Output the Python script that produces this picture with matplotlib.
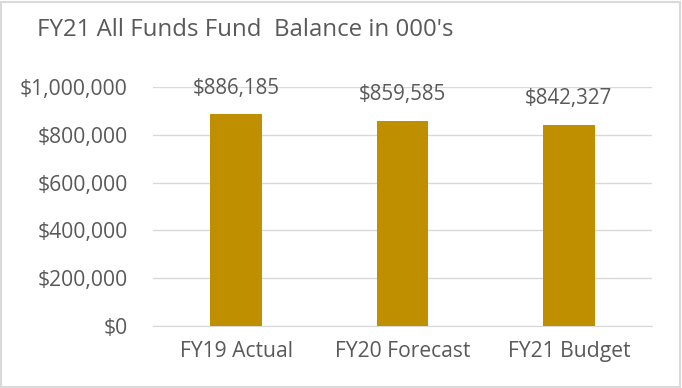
import matplotlib.pyplot as plt
from matplotlib.patches import Rectangle
from matplotlib.ticker import FuncFormatter

categories = ["FY19 Actual", "FY20 Forecast", "FY21 Budget"]
balances = [886185, 859585, 842327]
yticks = [0, 200000, 400000, 600000, 800000, 1000000]

plt.rcParams['font.family'] = ['Open Sans', 'DejaVu Sans']
txt = '#595959'

fig = plt.figure(figsize=(6.82, 3.88), dpi=100)
ax = fig.add_axes([0.2243, 0.1598, 0.7317, 0.616])

x = range(len(categories))
ax.bar(x, balances, width=0.31, color='#BF8F00', zorder=3)
for i, v in enumerate(balances):
    ax.annotate('${:,.0f}'.format(v), (i, v), xytext=(0, 18.5), textcoords='offset points',
                ha='center', va='center', fontsize=14.8, color=txt, clip_on=False)

ax.set_xlim(-0.5, 2.5)
ax.set_ylim(0, 1000000)
ax.set_yticks(yticks)
ax.yaxis.set_major_formatter(FuncFormatter(lambda v, p: '${:,.0f}'.format(v)))
ax.set_xticks(list(x))
ax.set_xticklabels(categories, fontsize=15.5)
ax.tick_params(length=0, labelsize=15.2, colors=txt)
ax.tick_params(axis='x', pad=11)
ax.tick_params(axis='y', pad=18)
ax.grid(axis='y', color='#D9D9D9', linewidth=1, zorder=0)
for s in ['top', 'right', 'left']:
    ax.spines[s].set_visible(False)
ax.spines['bottom'].set_color('#D9D9D9')

fig.text(37 / 682, 1 - 30 / 388, "FY21 All Funds Fund  Balance in 000's", fontsize=17.3,
         color=txt, ha='left', va='center')
fig.patches.append(Rectangle((0.002, 0.003), 0.995, 0.993, transform=fig.transFigure,
                             fill=False, edgecolor='#D9D9D9', linewidth=1.5))

fig.savefig('out.png', dpi=100)
